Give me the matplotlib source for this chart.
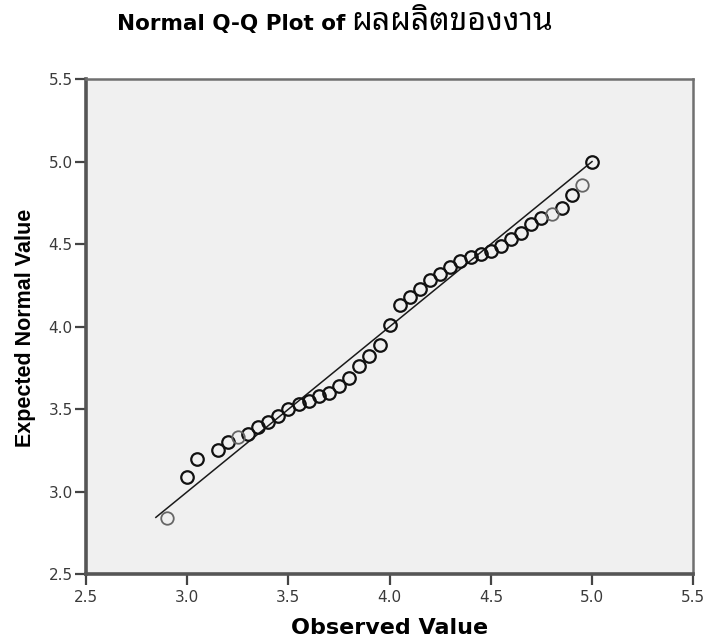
import matplotlib
matplotlib.use("Agg")
import matplotlib.pyplot as plt
import numpy as np

# ---- data ----
observed = [2.90, 3.00, 3.05, 3.15, 3.20, 3.25, 3.30, 3.35, 3.40, 3.45,
            3.50, 3.55, 3.60, 3.65, 3.70, 3.75, 3.80, 3.85, 3.90, 3.95,
            4.00, 4.05, 4.10, 4.15, 4.20, 4.25, 4.30, 4.35, 4.40, 4.45,
            4.50, 4.55, 4.60, 4.65, 4.70, 4.75, 4.80, 4.85, 4.90, 4.95, 5.00]
expected = [2.84, 3.09, 3.20, 3.25, 3.30, 3.33, 3.35, 3.39, 3.42, 3.46,
            3.50, 3.53, 3.55, 3.58, 3.60, 3.64, 3.69, 3.76, 3.82, 3.89,
            4.01, 4.13, 4.18, 4.23, 4.28, 4.32, 4.36, 4.40, 4.42, 4.44,
            4.46, 4.49, 4.53, 4.57, 4.62, 4.66, 4.68, 4.72, 4.80, 4.86, 5.00]
line_range = [2.845, 5.00]
ticks = [2.5, 3.0, 3.5, 4.0, 4.5, 5.0, 5.5]
tick_labels = ["2.5", "3.0", "3.5", "4.0", "4.5", "5.0", "5.5"]
title_latin = "Normal Q-Q Plot of"
title_thai = "ผลผลิตของงาน"
xlabel = "Observed Value"
ylabel = "Expected Normal Value"

fig = plt.figure(figsize=(7.11, 6.44), dpi=100)
ax = fig.add_axes([0.121, 0.1082, 0.854, 0.7691])
ax.set_facecolor("#f0f0f0")

ax.plot(line_range, line_range, color="#1a1a1a", lw=1.1, zorder=2)

# a few circles are drawn fainter in the reference (anti-aliasing)
faint = np.isin(np.round(observed, 2), [2.90, 3.25, 4.80, 4.95])
obs = np.asarray(observed)
exp_ = np.asarray(expected)
ax.plot(obs[~faint], exp_[~faint], linestyle="none", marker="o", markersize=9,
        markerfacecolor="none", markeredgecolor="#111111", markeredgewidth=1.6, zorder=3)
ax.plot(obs[faint], exp_[faint], linestyle="none", marker="o", markersize=9,
        markerfacecolor="none", markeredgecolor="#666666", markeredgewidth=1.3, zorder=3)

ax.set_xlim(2.5, 5.5)
ax.set_ylim(2.5, 5.5)
ax.set_xticks(ticks)
ax.set_xticklabels(tick_labels)
ax.set_yticks(ticks)
ax.set_yticklabels(tick_labels)
for lab in ax.get_xticklabels() + ax.get_yticklabels():
    lab.set_family(["DejaVu Sans"])
    lab.set_fontsize(11)
    lab.set_color("#3a3a3a")
ax.tick_params(axis="both", direction="out", length=8, width=1.6, color="#444444")
ax.tick_params(axis="x", pad=3)
ax.tick_params(axis="y", pad=1.5)

for side in ["left", "bottom"]:
    ax.spines[side].set_linewidth(2.6)
    ax.spines[side].set_color("#555555")
for side in ["top", "right"]:
    ax.spines[side].set_linewidth(1.8)
    ax.spines[side].set_color("#707070")

ax.set_xlabel(xlabel, fontsize=16, fontweight="bold", family=["DejaVu Sans"])
ax.xaxis.label.set_va("center")
ax.xaxis.set_label_coords(0.5006, -0.108)
ax.set_ylabel(ylabel, fontsize=15.5, fontweight="bold", family=["Liberation Sans Narrow", "Liberation Sans"])
ax.yaxis.label.set_va("center")
ax.yaxis.set_label_coords(-0.1005, 0.498)

fig.text(345 / 711, 1 - 30 / 644, title_latin, ha="right", va="baseline",
         fontsize=15.5, fontweight="bold", family=["DejaVu Sans"])
fig.text(351 / 711, 1 - 30 / 644, title_thai, ha="left", va="baseline",
         fontsize=23, fontweight="bold", family=["Noto Sans Thai Looped", "Loma", "Sarabun"])

fig.savefig("out.png", dpi=100)
